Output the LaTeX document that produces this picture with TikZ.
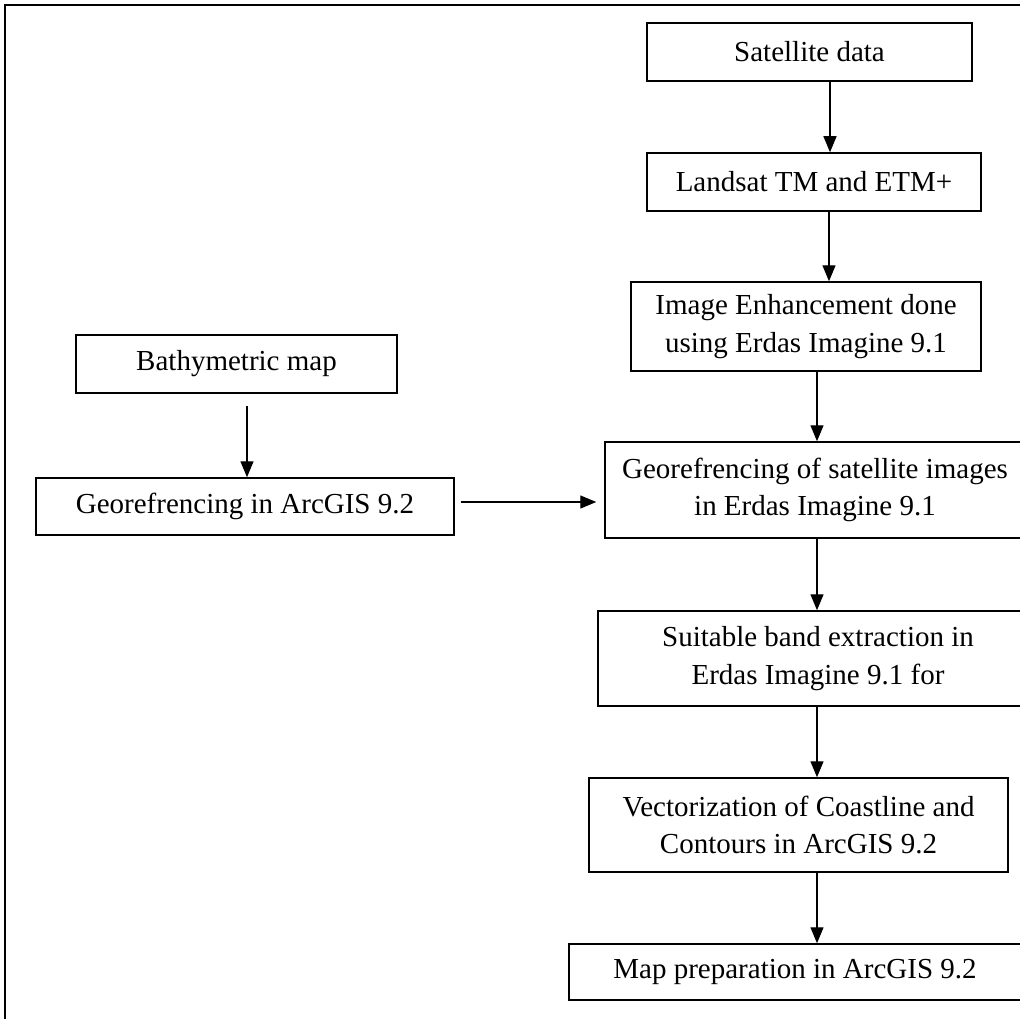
\documentclass[tikz,border=0pt]{standalone}
\usepackage{fontspec}
\setmainfont{Liberation Serif}
\usetikzlibrary{arrows.meta}
\tikzset{
	box/.style={draw, line width=1.5pt, align=center, inner sep=0pt, font=\fontsize{29}{37.5}\selectfont},
	flow/.style={-{Triangle[length=16pt,width=13pt]}, line width=1.4pt}
}
\begin{document}
\begin{tikzpicture}[x=1pt,y=-1pt]
		\clip (0,0) rectangle (1020,1019);
		\def\colx{817}	% x of the lower arrows
		\coordinate (colx) at (\colx,0);
		% frame
			\draw [line width=1.8pt] (5,1019) -- (5,5) -- (1020,5);
		% satellite branch
			\node [box, minimum width=325pt, minimum height=58pt] (sat) at (809.5,52) {Satellite data};
			\node [box, minimum width=334pt, minimum height=58pt] (landsat) at (814,182) {Landsat TM and ETM+};
			\node [box, minimum width=350pt, minimum height=89pt] (enhance) at (806,326.5) {Image Enhancement done\\using Erdas Imagine 9.1};
			\node [box, minimum width=420pt, minimum height=96pt] (georefsat) at (815,490) {Georefrencing of satellite images\\in Erdas Imagine 9.1};
			\node [box, minimum width=440pt, minimum height=95pt] (band) at (818,658.5) {Suitable band extraction in\\Erdas Imagine 9.1 for};
			\node [box, minimum width=419pt, minimum height=94pt] (vector) at (798.5,825) {Vectorization of Coastline and\\Contours in ArcGIS 9.2};
			\node [box, minimum width=452pt, minimum height=56pt] (mapprep) at (795,972) {Map preparation in ArcGIS 9.2};
		% bathymetric branch
			\node [box, minimum width=321pt, minimum height=58pt] (bathy) at (236.5,364) {Bathymetric map};
			\node [box, minimum width=418pt, minimum height=57pt] (georefarc) at (245,506.5) {Georefrencing in ArcGIS 9.2};
		% arrows
			\draw [flow] ([xshift=20.5pt]sat.south) -- ([xshift=20.5pt]sat.south |- landsat.north);
			\draw [flow] ([xshift=15pt]landsat.south) -- ([xshift=15pt]landsat.south |- enhance.north);
			\draw [flow] (enhance.south -| colx) -- (georefsat.north -| colx);
			\draw [flow] (georefsat.south -| colx) -- (band.north -| colx);
			\draw [flow] (band.south -| colx) -- (vector.north -| colx);
			\draw [flow] (vector.south -| colx) -- (mapprep.north -| colx);
			\draw [flow] ([xshift=10.5pt,yshift=-12pt]bathy.south) -- ([xshift=10.5pt]bathy.south |- georefarc.north);
			\draw [flow] ([xshift=6pt,yshift=4.5pt]georefarc.east) -- ([xshift=-8pt,yshift=4.5pt]georefarc.east -| georefsat.west);
\end{tikzpicture}
\end{document}
